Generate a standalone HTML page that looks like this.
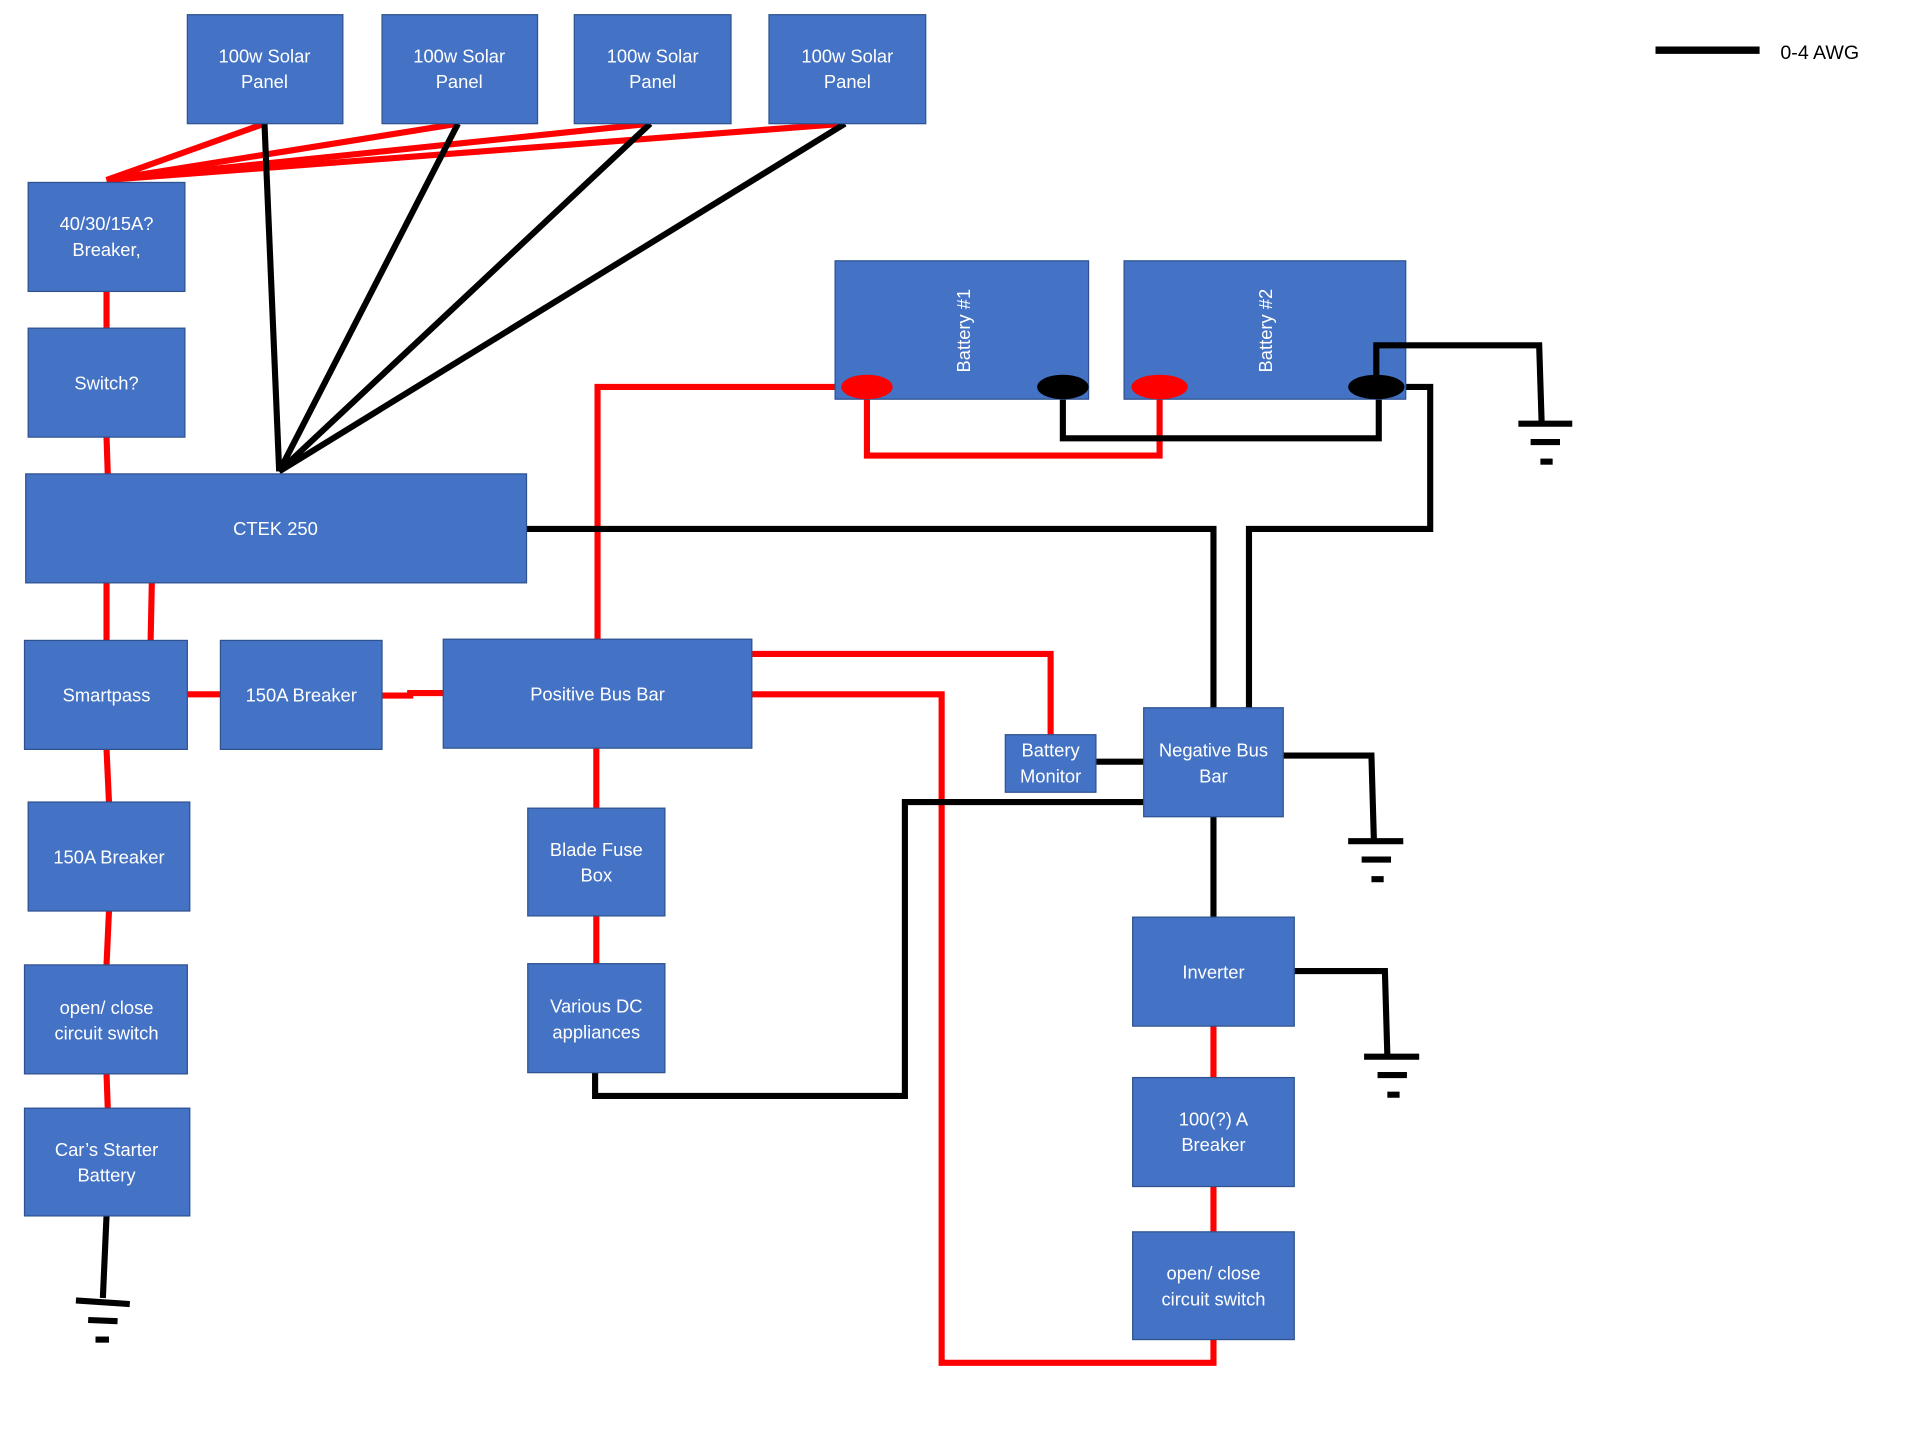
<!DOCTYPE html>
<html><head><meta charset="utf-8"><style>
html,body{margin:0;padding:0;background:#fff;}
svg{display:block;}
text{font-family:"Liberation Sans",sans-serif;font-size:15px;fill:#fff;text-anchor:middle;}
.b{fill:#4472C4;stroke:#2F528F;stroke-width:1;}
.r{stroke:#FF0000;stroke-width:5;fill:none;}
.k{stroke:#000;stroke-width:5;fill:none;}
</style></head><body>
<svg width="1920" height="1440" viewBox="0 0 1568 1176" preserveAspectRatio="none" xmlns="http://www.w3.org/2000/svg">
<line x1="1352" y1="41" x2="1437" y2="41" stroke="#000" stroke-width="6"/>
<text x="1454" y="48" style="fill:#000;text-anchor:start;font-size:16px">0-4 AWG</text>

<g class="r">
<line x1="216" y1="101" x2="87" y2="147"/><line x1="374" y1="101" x2="87" y2="147"/>
<line x1="531" y1="101" x2="87" y2="147"/><line x1="690" y1="101" x2="87" y2="147"/>
</g>
<g class="k">
<line x1="216" y1="101" x2="228" y2="385"/><line x1="374" y1="101" x2="228" y2="385"/>
<line x1="531" y1="101" x2="228" y2="385"/><line x1="690" y1="101" x2="228" y2="385"/>
</g>
<g class="r">
<line x1="87" y1="238" x2="87" y2="268"/><line x1="87" y1="357" x2="88" y2="387"/>
<line x1="87" y1="476" x2="87" y2="523"/><line x1="124" y1="476" x2="123" y2="523"/>
<line x1="153" y1="567" x2="180" y2="567"/>
<polyline points="312,568 335,568 335,566 362,566"/>
<line x1="87" y1="612" x2="89" y2="655"/><line x1="89" y1="744" x2="87" y2="788"/>
<line x1="87" y1="877" x2="88" y2="905"/>
<polyline points="488,522 488,316 690,316"/>
<polyline points="708,316 708,372 947,372 947,316"/>
<polyline points="614,534 858,534 858,600"/>
<polyline points="614,567 769,567 769,1113 991,1113 991,1094"/>
<line x1="487" y1="611" x2="487" y2="660"/><line x1="487" y1="748" x2="487" y2="787"/>
<line x1="991" y1="838" x2="991" y2="880"/><line x1="991" y1="969" x2="991" y2="1006"/>
</g>
<g class="k">
<line x1="87" y1="993" x2="84" y2="1060"/>
<polyline points="868,316 868,358 1126,358 1126,316"/>
<polyline points="1148,316 1168,316 1168,432 1020,432 1020,578"/>
<polyline points="430,432 991,432 991,578"/>
<line x1="895" y1="622" x2="934" y2="622"/>
<polyline points="934,655 739,655 739,895 486,895 486,876"/>
<line x1="991" y1="667" x2="991" y2="749"/>
<polyline points="1048,617 1120,617 1122,686"/>
<polyline points="1057,793 1131,793 1133,862"/>
</g>
<g stroke="#000" stroke-width="5">
<line x1="62" y1="1062" x2="106" y2="1065"/><line x1="72" y1="1078" x2="96" y2="1079"/><line x1="78" y1="1094" x2="89" y2="1094"/>
<line x1="1240" y1="346" x2="1284" y2="346"/><line x1="1250" y1="361" x2="1274" y2="361"/><line x1="1258" y1="377" x2="1268" y2="377"/>
<line x1="1101" y1="687" x2="1146" y2="687"/><line x1="1112" y1="702" x2="1136" y2="702"/><line x1="1120" y1="718" x2="1130" y2="718"/>
<line x1="1114" y1="863" x2="1159" y2="863"/><line x1="1125" y1="878" x2="1149" y2="878"/><line x1="1133" y1="894" x2="1143" y2="894"/>
</g>

<rect class="b" x="153" y="12" width="127" height="89"/><text x="216" y="51">100w Solar</text><text x="216" y="72">Panel</text>
<rect class="b" x="312" y="12" width="127" height="89"/><text x="375" y="51">100w Solar</text><text x="375" y="72">Panel</text>
<rect class="b" x="469" y="12" width="128" height="89"/><text x="533" y="51">100w Solar</text><text x="533" y="72">Panel</text>
<rect class="b" x="628" y="12" width="128" height="89"/><text x="692" y="51">100w Solar</text><text x="692" y="72">Panel</text>
<rect class="b" x="23" y="149" width="128" height="89"/><text x="87" y="188">40/30/15A?</text><text x="87" y="209">Breaker,</text>
<rect class="b" x="23" y="268" width="128" height="89"/><text x="87" y="318">Switch?</text>
<rect class="b" x="21" y="387" width="409" height="89"/><text x="225" y="437">CTEK 250</text>
<rect class="b" x="20" y="523" width="133" height="89"/><text x="87" y="573">Smartpass</text>
<rect class="b" x="180" y="523" width="132" height="89"/><text x="246" y="573">150A Breaker</text>
<rect class="b" x="362" y="522" width="252" height="89"/><text x="488" y="572">Positive Bus Bar</text>
<rect class="b" x="23" y="655" width="132" height="89"/><text x="89" y="705">150A Breaker</text>
<rect class="b" x="20" y="788" width="133" height="89"/><text x="87" y="828">open/ close</text><text x="87" y="849">circuit switch</text>
<rect class="b" x="20" y="905" width="135" height="88"/><text x="87" y="944">Car’s Starter</text><text x="87" y="965">Battery</text>
<rect class="b" x="431" y="660" width="112" height="88"/><text x="487" y="699">Blade Fuse</text><text x="487" y="720">Box</text>
<rect class="b" x="431" y="787" width="112" height="89"/><text x="487" y="827">Various DC</text><text x="487" y="848">appliances</text>
<rect class="b" x="682" y="213" width="207" height="113"/><text transform="translate(792,270) rotate(-90)">Battery #1</text>
<rect class="b" x="918" y="213" width="230" height="113"/><text transform="translate(1039,270) rotate(-90)">Battery #2</text>
<rect class="b" x="821" y="600" width="74" height="47"/><text x="858" y="618">Battery</text><text x="858" y="639">Monitor</text>
<rect class="b" x="934" y="578" width="114" height="89"/><text x="991" y="618">Negative Bus</text><text x="991" y="639">Bar</text>
<rect class="b" x="925" y="749" width="132" height="89"/><text x="991" y="799">Inverter</text>
<rect class="b" x="925" y="880" width="132" height="89"/><text x="991" y="919">100(?) A</text><text x="991" y="940">Breaker</text>
<rect class="b" x="925" y="1006" width="132" height="88"/><text x="991" y="1045">open/ close</text><text x="991" y="1066">circuit switch</text>

<polyline class="k" points="1124,316 1124,282 1257,282 1259,345"/>
<ellipse cx="708" cy="316" rx="21" ry="10" fill="#FF0000"/>
<ellipse cx="868" cy="316" rx="21" ry="10" fill="#000"/>
<ellipse cx="947" cy="316" rx="23" ry="10" fill="#FF0000"/>
<ellipse cx="1124" cy="316" rx="23" ry="10" fill="#000"/>
</svg>
</body></html>
